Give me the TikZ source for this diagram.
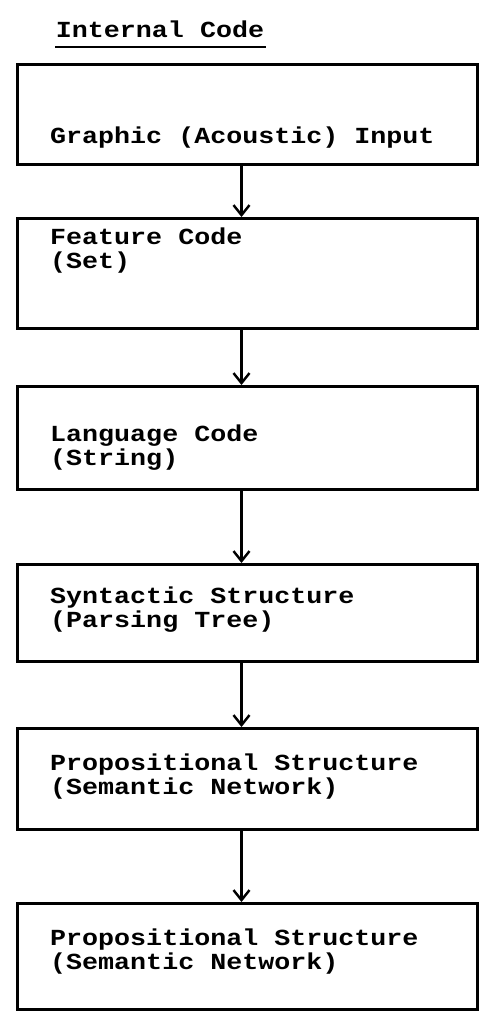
\documentclass[tikz,border=0pt]{standalone}
\usepackage{fontspec}
\setmonofont{Liberation Mono}[FakeStretch=1.16]
\usetikzlibrary{arrows.meta}
\begin{document}
\begin{tikzpicture}[x=1pt,y=-1pt,
  stage/.style={draw=black,line width=3pt,rectangle,inner sep=0pt,anchor=north west},
  lbl/.style={anchor=west,align=left,inner sep=0pt,font=\ttfamily\bfseries\fontsize{23}{24}\selectfont},
  flow/.style={line width=2.6pt,-{Straight Barb[length=10pt,width=16pt,line width=2.4pt]}}]
\useasboundingbox (0,0) rectangle (479,1013);
\node[lbl,anchor=center] (title) at (160,29) {Internal Code};
\draw[line width=2.4pt] (55,47) -- (266,47);
\node[stage,minimum width=460pt,minimum height=100pt] (b1) at (16,63) {};
\node[stage,minimum width=460pt,minimum height=110pt] (b2) at (16,217) {};
\node[stage,minimum width=460pt,minimum height=103pt] (b3) at (16,385) {};
\node[stage,minimum width=460pt,minimum height=97pt] (b4) at (16,563) {};
\node[stage,minimum width=460pt,minimum height=101pt] (b5) at (16,727) {};
\node[stage,minimum width=460pt,minimum height=106pt] (b6) at (16,902) {};
\node[lbl] (t1) at (50,138) {Graphic (Acoustic) Input};
\node[lbl] (t2) at (50,251) {Feature Code\\(Set)};
\node[lbl] (t3) at (50,448) {Language Code\\(String)};
\node[lbl] (t4) at (50,610) {Syntactic Structure\\(Parsing Tree)};
\node[lbl] (t5) at (50,777) {Propositional Structure\\(Semantic Network)};
\node[lbl] (t6) at (50,952) {Propositional Structure\\(Semantic Network)};
\draw[flow] ([xshift=-6pt]b1.south) -- ([xshift=-6pt]b2.north);
\draw[flow] ([xshift=-6pt]b2.south) -- ([xshift=-6pt]b3.north);
\draw[flow] ([xshift=-6pt]b3.south) -- ([xshift=-6pt]b4.north);
\draw[flow] ([xshift=-6pt]b4.south) -- ([xshift=-6pt]b5.north);
\draw[flow] ([xshift=-6pt]b5.south) -- ([xshift=-6pt]b6.north);
\end{tikzpicture}
\end{document}
